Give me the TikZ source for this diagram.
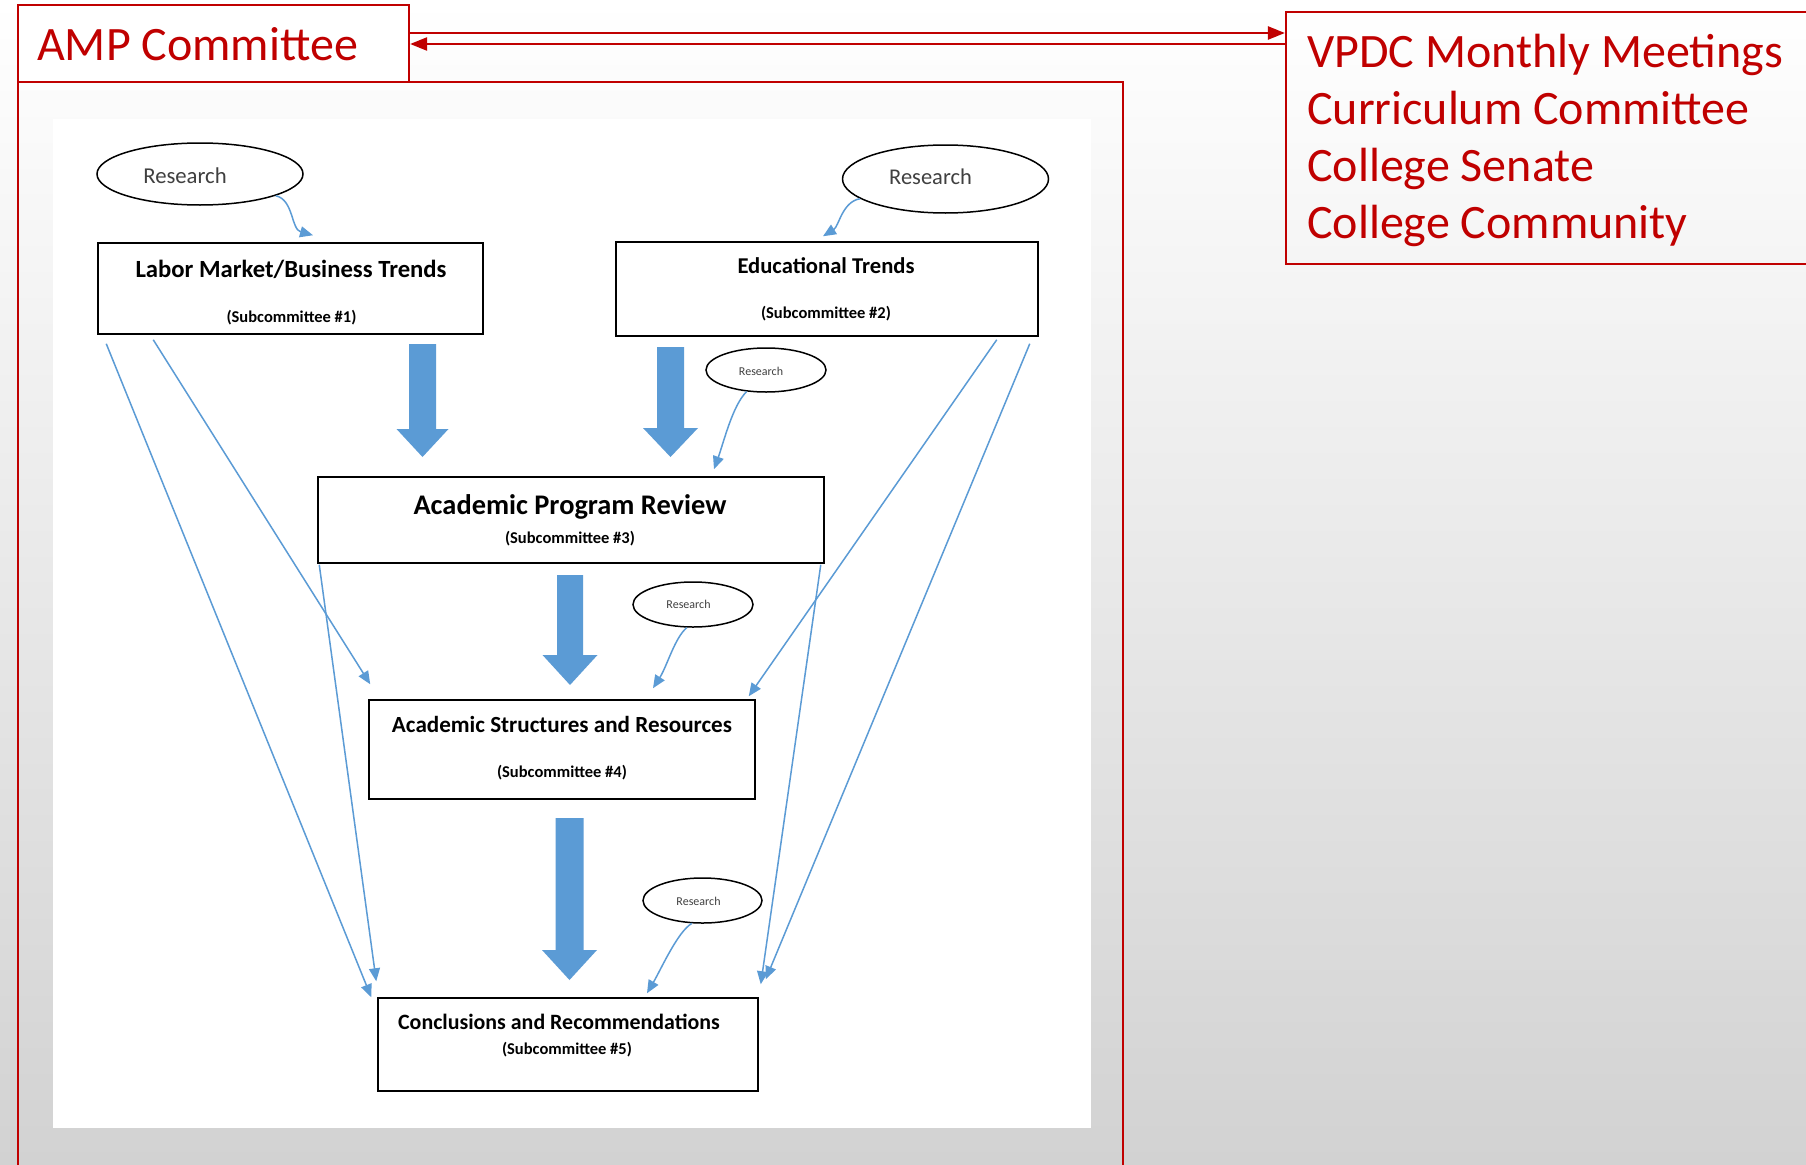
\documentclass[tikz,border=0pt]{standalone}
\usepackage{fontspec}
\setmainfont{Carlito}
\usetikzlibrary{arrows.meta,shapes.geometric}
\definecolor{amred}{RGB}{192,0,0}
\definecolor{ablue}{RGB}{91,155,213}
\definecolor{rgray}{RGB}{64,64,64}
\definecolor{bgbot}{RGB}{210,210,210}
\newcommand{\bigdown}[6]{\fill[ablue] (#1-#5,#2) -- (#1+#5,#2) -- (#1+#5,#3) -- (#1+#6,#3) -- (#1,#4) -- (#1-#6,#3) -- (#1-#5,#3) -- cycle;}
\begin{document}
\begin{tikzpicture}[x=1pt,y=-1pt,
  boxnode/.style={draw=black, line width=1.5pt, fill=white, inner sep=0pt},
  resnode/.style={draw=black, ellipse, line width=1.5pt, fill=white, inner sep=0pt},
  restext/.style={anchor=base, inner sep=0pt, text=rgray},
  ttl/.style={anchor=base, inner sep=0pt, font=\bfseries},
  subt/.style={anchor=base, inner sep=0pt, font=\bfseries\fontsize{16.5}{18}\selectfont},
  thinarr/.style={draw=ablue, line width=1.5pt, -{Triangle[length=13pt,width=11pt]}},
  redline/.style={draw=amred, line width=2.2pt},
  redarr/.style={draw=amred, line width=2.4pt, -{Triangle[length=17pt,width=13pt]}},
  redtext/.style={anchor=base west, inner sep=0pt, text=amred, font=\fontsize{48}{56}\selectfont}]
\useasboundingbox (0,0) rectangle (1806,1164);
\shade[top color=white, bottom color=bgbot] (0,0) rectangle (1806,1164);
% inner picture panel
\fill[white] (53,119) rectangle (1091,1128);

% ---- red frame and boxes
\draw[redline] (18,1175) -- (18,82) -- (1123,82) -- (1123,1175);
\node[draw=amred, line width=2.2pt, fill=white, inner sep=0pt, minimum width=391pt, minimum height=77pt] (amp) at (213.5,43.5) {};
\node[redtext] (ampt) at (37,60) {AMP Committee};
\node[draw=amred, line width=2.2pt, inner sep=0pt, minimum width=530pt, minimum height=252pt] (vpdc) at (1551,138) {};
\node[redtext] (v1) at (1307,67) {VPDC Monthly Meetings};
\node[redtext] (v2) at (1307,124) {Curriculum Committee};
\node[redtext] (v3) at (1307,181) {College Senate};
\node[redtext] (v4) at (1307,238) {College Community};
\coordinate (ya) at (0,33);
\coordinate (yb) at (0,44);
\draw[redarr] (amp.east |- ya) -- (vpdc.west |- ya);
\draw[redarr] (vpdc.west |- yb) -- (amp.east |- yb);

% ---- boxes
\node[boxnode, minimum width=385pt, minimum height=91pt] (b1) at (290.5,288.5) {};
\node[ttl, font=\bfseries\fontsize{24.7}{28}\selectfont] (b1t) at (291,277) {Labor Market/Business Trends};
\node[subt] (b1s) at (291.5,322) {(Subcommittee \#1)};

\node[boxnode, minimum width=422pt, minimum height=94pt] (b2) at (827,289) {};
\node[ttl, font=\bfseries\fontsize{22.6}{26}\selectfont] (b2t) at (826,273) {Educational Trends};
\node[subt] (b2s) at (826,318) {(Subcommittee \#2)};

\node[boxnode, minimum width=506pt, minimum height=86pt] (b3) at (571,520) {};
\node[ttl, font=\bfseries\fontsize{28.4}{32}\selectfont] (b3t) at (570,514) {Academic Program Review};
\node[subt] (b3s) at (570,543) {(Subcommittee \#3)};

\node[boxnode, minimum width=386pt, minimum height=99pt] (b4) at (562,749.5) {};
\node[ttl, font=\bfseries\fontsize{23.1}{26}\selectfont] (b4t) at (562,732) {Academic Structures and Resources};
\node[subt] (b4s) at (562,777) {(Subcommittee \#4)};

\node[boxnode, minimum width=380pt, minimum height=93pt] (b5) at (568,1044.5) {};
\node[ttl, font=\bfseries\fontsize{21.9}{25}\selectfont] (b5t) at (559,1029) {Conclusions and Recommendations};
\node[subt] (b5s) at (567,1054) {(Subcommittee \#5)};

% ---- research ellipses
\node[resnode, minimum width=206pt, minimum height=62pt] (e1) at (200,174) {};
\node[restext, font=\fontsize{22.7}{26}\selectfont] (e1t) at (185,183) {Research};
\node[resnode, minimum width=206pt, minimum height=68pt] (e2) at (945.5,179) {};
\node[restext, font=\fontsize{22.5}{26}\selectfont] (e2t) at (930.5,184) {Research};
\node[resnode, minimum width=120pt, minimum height=44pt] (e3) at (766,370) {};
\node[restext, font=\fontsize{12}{14}\selectfont] (e3t) at (761,375) {Research};
\node[resnode, minimum width=120pt, minimum height=45pt] (e4) at (693,604.5) {};
\node[restext, font=\fontsize{12}{14}\selectfont] (e4t) at (688.5,608) {Research};
\node[resnode, minimum width=119pt, minimum height=45pt] (e5) at (702.5,900.5) {};
\node[restext, font=\fontsize{12}{14}\selectfont] (e5t) at (698.5,905) {Research};

% ---- block arrows
\bigdown{422.5}{344}{429}{457}{13.5}{26}
\bigdown{670.5}{347}{428}{457}{13.5}{27.5}
\bigdown{570}{575}{655}{685}{13}{27.5}
\bigdown{569.5}{818}{950}{980}{14}{27.5}

% ---- curved research connectors
\coordinate (c1) at ([shift={(22.5,-7)}]b1.north);
\coordinate (c2) at ([shift={(-4,-5)}]b2.north);
\coordinate (c3) at ([shift={(143,-7)}]b3.north);
\coordinate (c4) at ([shift={(91,-11)}]b4.north);
\coordinate (c5) at ([shift={(79,-4)}]b5.north);
\draw[thinarr] (e1.-16) .. controls +(18,4) and +(-22,-6) .. (c1);
\draw[thinarr] (e2.193) .. controls +(-18,3) and +(16,-10) .. (c2);
\draw[thinarr] (e3.228) .. controls +(-14,14) and +(10,-28) .. (c3);
\draw[thinarr] (e4.255) .. controls +(-12,10) and +(14,-22) .. (c4);
\draw[thinarr] (e5.245) .. controls +(-14,8) and +(14,-24) .. (c5);

% ---- long thin connectors
\coordinate (t1) at ([shift={(-6,0)}]b5.north west);
\coordinate (t2) at ([shift={(2,-15)}]b4.north west);
\coordinate (t3) at ([shift={(-1,-16)}]b5.north west);
\coordinate (t4) at ([shift={(-7,-3)}]b4.north east);
\coordinate (t5) at ([shift={(7,-18)}]b5.north east);
\coordinate (t6) at ([shift={(2,-13)}]b5.north east);
\draw[thinarr] ([shift={(9,9)}]b1.south west) -- (t1);
\draw[thinarr] ([shift={(56,5)}]b1.south west) -- (t2);
\draw[thinarr] ([shift={(2,1)}]b3.south west) -- (t3);
\draw[thinarr] ([shift={(-42,3)}]b2.south east) -- (t4);
\draw[thinarr] ([shift={(-9,7)}]b2.south east) -- (t5);
\draw[thinarr] ([shift={(-4,1)}]b3.south east) -- (t6);
\end{tikzpicture}
\end{document}
